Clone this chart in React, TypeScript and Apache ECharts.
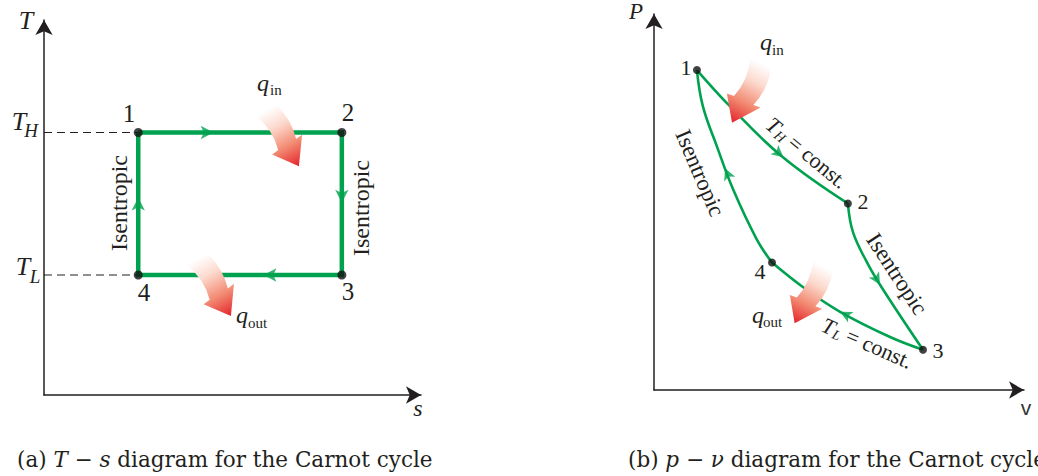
import React, { useEffect, useRef } from 'react';
import * as echarts from 'echarts';

// ---------- T-s diagram (arbitrary units, both axes 0..10) ----------
const tsEntropy = [2.5, 7.9]; // s1 = s4, s2 = s3
const tsTemps = [7.0, 3.2]; // T_H, T_L
const tsCycle = [
  [tsEntropy[0], tsTemps[0]],
  [tsEntropy[1], tsTemps[0]],
  [tsEntropy[1], tsTemps[1]],
  [tsEntropy[0], tsTemps[1]],
  [tsEntropy[0], tsTemps[0]],
];
const tsStates = [
  [tsEntropy[0], tsTemps[0]],
  [tsEntropy[1], tsTemps[0]],
  [tsEntropy[1], tsTemps[1]],
  [tsEntropy[0], tsTemps[1]],
];
// flow-direction markers: [s, T, rotation in degrees]
const tsFlowMarks = [
  [4.5, 7.0, -90],
  [7.9, 5.13, 180],
  [5.82, 3.2, 90],
  [2.5, 5.27, 0],
];

// ---------- p-v diagram (arbitrary units, both axes 0..10) ----------
const pvIsothermHigh = [[1.16, 8.51], [2.05, 7.55], [3.46, 6.21], [5.24, 4.96]];
const pvIsentropicExp = [[5.24, 4.96], [5.38, 4.19], [5.76, 3.39], [6.16, 2.72], [7.27, 1.07]];
const pvIsothermLow = [[7.27, 1.07], [6.38, 1.41], [5.03, 2.08], [4.05, 2.72], [3.19, 3.39]];
const pvIsentropicComp = [[3.19, 3.39], [2.78, 4.0], [2.14, 5.33], [1.7, 6.48], [1.32, 7.55], [1.16, 8.51]];
const pvStates = [[1.16, 8.51], [5.24, 4.96], [7.27, 1.07], [3.19, 3.39]];
const pvFlowMarks = [
  [3.5, 6.19, -130],
  [6.11, 2.8, -149],
  [5.03, 2.08, 63],
  [1.92, 5.9, 23],
];

const GREEN = '#00a24f';
const INK = '#231f20';
const SERIF = '"Liberation Serif", "Times New Roman", serif';
const CAPTION_FONT = '"DejaVu Serif", serif';

// heat arrow pointing down, origin at tail centre
const ARROW_PATH =
  'M -11 0 L 11 0 Q 17 20 12 38 L 19 37 L 2 62 L -15 40 L -8 39 Q -3 20 -11 0 Z';

function heatGradient() {
  return new echarts.graphic.LinearGradient(0, 0, 0, 1, [
    { offset: 0, color: 'rgba(255,255,255,1)' },
    { offset: 0.3, color: '#fcd9cd' },
    { offset: 0.65, color: '#f28a72' },
    { offset: 1, color: '#e4232a' },
  ]);
}

function t(text: string, x: number, y: number, size: number, opts: any = {}) {
  return {
    type: 'text',
    x,
    y,
    rotation: opts.rotation || 0,
    z: 100,
    style: {
      text,
      fill: opts.color || INK,
      fontSize: size,
      fontFamily: opts.family || SERIF,
      fontStyle: opts.italic ? 'italic' : 'normal',
      align: opts.align || 'center',
      verticalAlign: 'middle',
    },
  };
}

function constLabel(sub: string, x: number, y: number, rotation: number, subW: number) {
  return {
    type: 'group',
    x,
    y,
    rotation,
    z: 100,
    children: [
      t('T', -48, 0, 22, { italic: true, align: 'left' }),
      t(sub, -35, 5, 14, { italic: true, align: 'left' }),
      t(' = const.', -35 + subW, 0, 22, { align: 'left' }),
    ],
  };
}

function heatArrow(x: number, y: number, rotation: number, scale: number) {
  return {
    type: 'heatArrow',
    x,
    y,
    rotation,
    scaleX: scale,
    scaleY: scale,
    z: 90,
    style: { fill: heatGradient() },
  };
}

function axisCfg(gridIndex: number) {
  return {
    gridIndex,
    type: 'value',
    min: 0,
    max: 10,
    axisLine: {
      show: true,
      onZero: false,
      symbol: ['none', 'arrow'],
      symbolSize: [13, 15],
      lineStyle: { color: INK, width: 1.5 },
    },
    axisTick: { show: false },
    axisLabel: { show: false },
    splitLine: { show: false },
  };
}

function curve(data: number[][], idx: number) {
  return {
    type: 'line',
    xAxisIndex: idx,
    yAxisIndex: idx,
    data,
    smooth: 0.4,
    symbol: 'none',
    silent: true,
    lineStyle: { color: GREEN, width: 2.6 },
    z: 3,
  };
}

function caption(text: string, x: number) {
  return {
    type: 'text',
    x,
    y: 459,
    z: 100,
    style: {
      text,
      fontSize: 21.5,
      fontFamily: CAPTION_FONT,
      fill: INK,
      align: 'left',
      verticalAlign: 'middle',
      rich: {
        r: { fontSize: 21.5, fontFamily: CAPTION_FONT, color: INK },
        i: { fontSize: 21.5, fontFamily: CAPTION_FONT, fontStyle: 'italic', color: INK },
      },
    },
  };
}

function buildOption() {
  const graphic: any[] = [
    // T-s axis names and levels
    t('T', 26, 20, 26, { italic: true }),
    t('s', 418, 408, 24, { italic: true }),
    t('T', 19, 121, 26, { italic: true }),
    t('H', 31, 130, 19, { italic: true }),
    t('T', 23, 266, 26, { italic: true }),
    t('L', 35, 276, 19, { italic: true }),
    // T-s state numbers
    t(String(1), 129, 113, 25),
    t(String(2), 348, 112, 25),
    t(String(3), 348, 291, 25),
    t(String(4), 144, 292, 25),
    t('Isentropic', 119, 203, 24, { rotation: Math.PI / 2 }),
    t('Isentropic', 361, 208, 24, { rotation: Math.PI / 2 }),
    // q labels T-s
    t('q', 257, 83, 24, { italic: true, align: 'left' }),
    t('in', 270, 90, 15, { align: 'left' }),
    t('q', 236, 315, 24, { italic: true, align: 'left' }),
    t('out', 248, 323, 15, { align: 'left' }),
    heatArrow(266, 110, 0.497, 1.05),
    heatArrow(197, 259, 0.504, 1.07),

    // p-v axis names
    t('P', 636, 11, 23, { italic: true }),
    t('v', 1026, 407, 21, { family: '"Liberation Sans", sans-serif', color: '#333' }),
    t(String(1), 686, 67, 22),
    t(String(2), 863, 201, 22),
    t(String(3), 938, 350, 22),
    t(String(4), 760, 271, 22),
    constLabel('H', 806, 152, -0.69, 10),
    constLabel('L', 867, 343, -0.41, 8),
    t('Isentropic', 700, 173, 23, { rotation: -1.166 }),
    t('Isentropic', 897, 274, 23, { rotation: -0.993 }),
    t('q', 760, 42, 24, { italic: true, align: 'left' }),
    t('in', 772, 50, 15, { align: 'left' }),
    t('q', 752, 315, 24, { italic: true, align: 'left' }),
    t('out', 763, 322, 15, { align: 'left' }),
    heatArrow(761, 63, -0.484, 1.07),
    heatArrow(823, 266, -0.492, 1.03),

    // captions
    caption('{r|(a) }{i|T}{r| − }{i|s}{r| diagram for the Carnot cycle}', 17),
    caption('{r|(b) }{i|p}{r| − }{i|ν}{r| diagram for the Carnot cycle}', 628),
  ];

  return {
    animation: false,
    backgroundColor: '#ffffff',
    grid: [
      { left: 44, top: 20, width: 377, height: 375 },
      { left: 654, top: 14, width: 370, height: 376 },
    ],
    xAxis: [axisCfg(0), axisCfg(1)],
    yAxis: [axisCfg(0), axisCfg(1)],
    graphic,
    series: [
      {
        type: 'line',
        xAxisIndex: 0,
        yAxisIndex: 0,
        data: [[0, tsTemps[0]], [tsEntropy[0], tsTemps[0]]],
        symbol: 'none',
        silent: true,
        lineStyle: { color: INK, width: 1.2, type: [8, 5] },
        z: 2,
      },
      {
        type: 'line',
        xAxisIndex: 0,
        yAxisIndex: 0,
        data: [[0, tsTemps[1]], [tsEntropy[0], tsTemps[1]]],
        symbol: 'none',
        silent: true,
        lineStyle: { color: INK, width: 1.2, type: [8, 5] },
        z: 2,
      },
      {
        type: 'line',
        xAxisIndex: 0,
        yAxisIndex: 0,
        data: tsCycle,
        symbol: 'none',
        silent: true,
        lineStyle: { color: GREEN, width: 4.5, join: 'miter' },
        z: 3,
      },
      {
        type: 'scatter',
        xAxisIndex: 0,
        yAxisIndex: 0,
        symbol: 'arrow',
        symbolSize: [10, 13],
        silent: true,
        itemStyle: { color: GREEN },
        data: tsFlowMarks.map(([x, y, r]) => ({ value: [x, y], symbolRotate: r })),
        z: 4,
      },
      {
        type: 'scatter',
        xAxisIndex: 0,
        yAxisIndex: 0,
        symbol: 'circle',
        symbolSize: 9,
        silent: true,
        itemStyle: { color: '#111' },
        data: tsStates,
        z: 5,
      },
      curve(pvIsothermHigh, 1),
      curve(pvIsentropicExp, 1),
      curve(pvIsothermLow, 1),
      curve(pvIsentropicComp, 1),
      {
        type: 'scatter',
        xAxisIndex: 1,
        yAxisIndex: 1,
        symbol: 'arrow',
        symbolSize: [9, 12],
        silent: true,
        itemStyle: { color: GREEN },
        data: pvFlowMarks.map(([x, y, r]) => ({ value: [x, y], symbolRotate: r })),
        z: 4,
      },
      {
        type: 'scatter',
        xAxisIndex: 1,
        yAxisIndex: 1,
        symbol: 'circle',
        symbolSize: 8,
        silent: true,
        itemStyle: { color: '#111' },
        data: pvStates,
        z: 5,
      },
    ],
  };
}

export default function App() {
  const ref = useRef<HTMLDivElement>(null);
  useEffect(() => {
    if (!ref.current) return;
    echarts.graphic.registerShape('heatArrow', echarts.graphic.extendPath(ARROW_PATH, {}));
    const chart = echarts.init(ref.current, null, { renderer: 'svg' });
    chart.setOption(buildOption() as any);
    return () => chart.dispose();
  }, []);
  return (
    <div
      ref={ref}
      style={{ position: 'fixed', left: 0, top: 0, width: 1038, height: 476, background: '#fff' }}
    />
  );
}
